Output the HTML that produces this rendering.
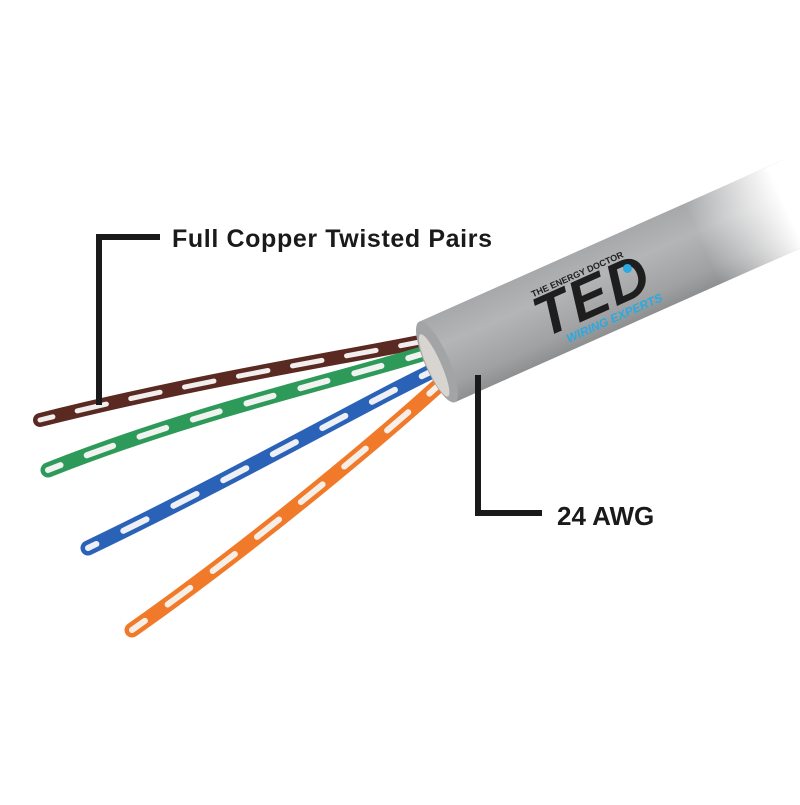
<!DOCTYPE html>
<html><head><style>body{margin:0;background:#fff}</style></head>
<body>
<svg width="800" height="800" viewBox="0 0 800 800" xmlns="http://www.w3.org/2000/svg">
<defs>
<linearGradient id="cg" x1="0" y1="0" x2="0" y2="1">
<stop offset="0" stop-color="#a7a8aa"/><stop offset="0.35" stop-color="#b4b5b7"/><stop offset="0.8" stop-color="#a0a1a3"/><stop offset="1" stop-color="#8e8f91"/></linearGradient>
<linearGradient id="fade" x1="0" y1="0" x2="1" y2="0">
<stop offset="0.72" stop-color="#fff" stop-opacity="0"/><stop offset="0.95" stop-color="#fff" stop-opacity="1"/></linearGradient>
</defs>
<g stroke-linecap="round" fill="none">
<path d="M430 340 C330 360 200 380 40 420" stroke="#5a2a22" stroke-width="14"/>
<path d="M430 340 C330 360 200 380 40 420" stroke="#f2eeee" stroke-width="5" stroke-dasharray="30 25"/>
<path d="M435 350 C340 380 200 410 48 470" stroke="#2e9a5a" stroke-width="15"/>
<path d="M435 350 C340 380 200 410 48 470" stroke="#f0f3f0" stroke-width="6" stroke-dasharray="28 28"/>
<path d="M445 365 C370 400 250 470 88 548" stroke="#2a62b8" stroke-width="15"/>
<path d="M445 365 C370 400 250 470 88 548" stroke="#eef0f6" stroke-width="6" stroke-dasharray="26 30"/>
<path d="M450 375 C390 430 260 540 132 630" stroke="#f07a2a" stroke-width="15"/>
<path d="M450 375 C390 430 260 540 132 630" stroke="#f6efe8" stroke-width="6" stroke-dasharray="28 28"/>
</g>
<g transform="translate(437,362) rotate(-24)">
<rect x="0" y="-44" width="400" height="88" fill="url(#cg)"/>
<ellipse cx="0" cy="0" rx="12" ry="44" fill="#a3a4a6"/>
<ellipse cx="-4" cy="2" rx="7" ry="34" fill="#d8d4d0"/>
<rect x="0" y="-44" width="402" height="88" fill="url(#fade)"/>
<text x="114" y="-20" font-family="Liberation Sans, sans-serif" font-weight="bold" font-size="9" fill="#222">THE ENERGY DOCTOR</text>
<text x="108" y="22" font-family="Liberation Sans, sans-serif" font-weight="bold" font-size="58" fill="#1e1e1e" font-style="italic" textLength="120">TED</text>
<circle cx="212" cy="-8" r="4.5" fill="#29aae2"/>
<text x="128" y="36" font-family="Liberation Sans, sans-serif" font-weight="bold" font-size="12" fill="#29aae2" font-style="italic">WIRING EXPERTS</text>
</g>
<path d="M99 405 V237 H160" stroke="#1a1a1a" stroke-width="6" fill="none"/>
<text x="172" y="247" font-family="Liberation Sans, sans-serif" font-weight="bold" font-size="25" fill="#1a1a1a" textLength="320">Full Copper Twisted Pairs</text>
<path d="M478 375 V513 H542" stroke="#1a1a1a" stroke-width="6" fill="none"/>
<text x="557" y="525" font-family="Liberation Sans, sans-serif" font-weight="bold" font-size="26" fill="#1a1a1a">24 AWG</text>
</svg>
</body></html>
